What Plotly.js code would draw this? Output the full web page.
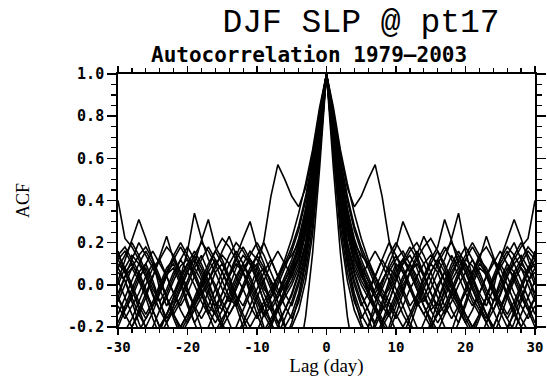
<!DOCTYPE html>
<html>
<head>
<meta charset="utf-8">
<script src="https://cdn.plot.ly/plotly-3.0.1.min.js"></script>
<style>html,body{margin:0;padding:0;background:#fff;}#chart{width:547px;height:377px;}</style>
</head>
<body>
<div id="chart"></div>
<script>
// Positive lags (days); the ACF is symmetric, negative lags mirror these values
const lags = [0,1,2,3,4,5,6,7,8,9,10,11,12,13,14,15,16,17,18,19,20,21,22,23,24,25,26,27,28,29,30];

const acf01 = [1.00,0.82,0.62,0.46,0.37,0.42,0.50,0.57,0.42,0.21,0.08,-0.02,-0.10,-0.05,0.04,0.10,0.06,-0.03,-0.12,-0.18,-0.10,0.00,0.08,0.05,-0.04,-0.13,-0.20,-0.14,-0.06,0.02,0.06];
const acf02 = [1.00,0.74,0.48,0.30,0.18,0.10,0.02,-0.06,-0.12,-0.08,0.02,0.10,0.14,0.08,-0.01,-0.08,-0.14,-0.10,-0.02,0.06,0.12,0.09,0.02,-0.06,-0.12,-0.05,0.04,0.12,0.18,0.22,0.40];
const acf03 = [1.00,0.70,0.40,0.18,0.05,-0.05,-0.12,-0.18,-0.10,0.00,0.08,0.12,0.06,-0.02,-0.10,-0.16,-0.22,-0.14,-0.04,0.04,0.10,0.04,-0.04,-0.10,-0.02,0.12,0.22,0.31,0.22,0.12,0.02];
const acf04 = [1.00,0.78,0.55,0.36,0.22,0.12,0.04,-0.04,-0.10,-0.15,-0.08,0.00,0.06,0.10,0.04,0.12,0.18,0.31,0.21,0.10,0.02,-0.06,-0.12,-0.18,-0.24,-0.16,-0.06,0.02,0.08,0.04,-0.04];
const acf05 = [1.00,0.66,0.34,0.12,-0.04,-0.14,-0.20,-0.12,0.00,0.10,0.18,0.30,0.22,0.14,0.05,-0.04,-0.12,-0.20,-0.26,-0.18,-0.08,0.02,0.10,0.06,-0.02,-0.10,-0.16,-0.22,-0.14,-0.06,0.02];
const acf06 = [1.00,0.72,0.44,0.24,0.10,0.02,-0.04,-0.10,-0.16,-0.22,-0.14,-0.04,0.06,0.14,0.23,0.16,0.08,0.02,-0.04,-0.10,-0.04,0.04,0.12,0.23,0.14,0.04,-0.06,-0.14,-0.20,-0.26,-0.30];
const acf07 = [1.00,0.80,0.58,0.40,0.26,0.16,0.08,0.00,-0.06,-0.02,0.06,0.12,0.08,0.00,-0.08,-0.02,0.06,0.12,0.22,0.34,0.16,0.04,-0.06,-0.14,-0.20,-0.12,-0.04,0.04,0.10,0.16,0.12];
const acf08 = [1.00,0.55,0.15,-0.15,-0.35,-0.30,-0.20,-0.08,0.02,0.08,0.04,-0.04,-0.12,-0.20,-0.26,-0.18,-0.08,0.02,0.10,0.16,0.10,0.02,-0.06,-0.14,-0.22,-0.30,-0.22,-0.12,-0.02,0.06,0.10];
const acf09 = [1.00,0.76,0.50,0.32,0.20,0.14,0.10,0.04,-0.02,-0.08,-0.14,-0.20,-0.14,-0.06,0.02,0.10,0.16,0.10,0.02,-0.06,-0.14,-0.20,-0.26,-0.18,-0.08,0.02,0.10,0.06,-0.02,-0.10,-0.18];
const acf10 = [1.00,0.68,0.38,0.16,0.02,-0.08,-0.16,-0.24,-0.18,-0.08,0.02,0.10,0.16,0.20,0.14,0.06,-0.02,-0.10,-0.16,-0.10,-0.02,0.06,0.14,0.18,0.12,0.04,-0.04,-0.12,-0.20,-0.14,-0.06];
const acf11 = [1.00,0.84,0.64,0.48,0.34,0.22,0.12,0.04,-0.04,-0.10,-0.16,-0.10,-0.02,0.04,0.10,0.14,0.10,0.02,-0.06,-0.12,-0.18,-0.24,-0.16,-0.06,0.04,0.12,0.18,0.14,0.08,0.00,-0.08];
const acf12 = [1.00,0.62,0.28,0.06,-0.08,-0.16,-0.10,-0.02,0.06,0.14,0.20,0.14,0.06,-0.02,-0.10,-0.18,-0.24,-0.30,-0.22,-0.12,-0.02,0.06,0.12,0.08,0.00,-0.08,-0.14,-0.08,0.00,0.08,0.14];
const acf13 = [1.00,0.78,0.52,0.30,0.14,0.04,-0.02,0.04,0.12,0.20,0.14,0.06,-0.02,-0.08,-0.14,-0.20,-0.14,-0.06,0.02,0.08,0.14,0.20,0.14,0.06,-0.02,-0.10,-0.16,-0.10,-0.02,0.06,0.12];
const acf14 = [1.00,0.72,0.42,0.20,0.06,-0.04,-0.12,-0.20,-0.28,-0.20,-0.10,-0.02,0.06,0.12,0.18,0.22,0.16,0.08,0.00,-0.08,-0.16,-0.22,-0.14,-0.06,0.02,0.10,0.16,0.10,0.02,-0.06,-0.14];
const acf15 = [1.00,0.80,0.56,0.36,0.20,0.08,-0.02,-0.10,-0.18,-0.24,-0.30,-0.24,-0.16,-0.08,0.00,0.06,0.12,0.18,0.12,0.04,-0.04,-0.10,-0.04,0.04,0.10,0.16,0.10,0.02,-0.06,-0.12,-0.20];
const acf16 = [1.00,0.64,0.32,0.10,-0.06,-0.18,-0.26,-0.18,-0.08,0.02,0.10,0.06,-0.02,-0.10,-0.06,0.02,0.10,0.16,0.20,0.14,0.06,-0.02,-0.10,-0.18,-0.12,-0.04,0.04,0.10,0.14,0.08,0.00];
const acf17 = [1.00,0.76,0.50,0.28,0.14,0.06,0.00,-0.06,-0.02,0.06,0.12,0.16,0.10,0.02,-0.06,-0.12,-0.08,0.00,0.08,0.14,0.08,0.00,-0.08,-0.14,-0.20,-0.12,-0.02,0.06,0.12,0.18,0.14];
const acf18 = [1.00,0.70,0.40,0.20,0.08,0.00,-0.06,-0.12,-0.20,-0.14,-0.06,0.02,0.10,0.04,-0.04,-0.12,-0.18,-0.12,-0.04,0.04,0.12,0.18,0.12,0.04,-0.04,-0.10,-0.04,0.04,0.10,0.06,0.16];
const acf19 = [1.00,0.82,0.60,0.42,0.28,0.18,0.10,0.02,-0.06,-0.14,-0.22,-0.28,-0.20,-0.10,-0.02,0.06,0.12,0.06,-0.02,-0.10,-0.18,-0.12,-0.04,0.04,0.12,0.08,0.00,-0.08,-0.16,-0.22,-0.28];
const acf20 = [1.00,0.60,0.24,0.02,-0.12,-0.20,-0.26,-0.20,-0.12,-0.04,0.04,0.12,0.18,0.12,0.04,-0.04,-0.10,-0.04,0.04,0.12,0.06,-0.02,-0.10,-0.16,-0.08,0.00,0.08,0.04,-0.04,-0.12,-0.06];
const acf21 = [1.00,0.74,0.46,0.26,0.12,0.04,0.10,0.16,0.10,0.02,-0.06,-0.14,-0.20,-0.26,-0.18,-0.10,-0.02,0.06,0.14,0.08,0.00,-0.08,-0.14,-0.06,0.02,0.10,0.04,-0.04,-0.10,-0.16,-0.10];
const acf22 = [1.00,0.78,0.54,0.34,0.18,0.06,-0.04,-0.12,-0.18,-0.12,-0.04,0.04,0.10,0.16,0.10,0.02,-0.06,-0.14,-0.08,0.00,0.06,0.12,0.06,-0.02,-0.08,-0.02,0.06,0.14,0.20,0.14,0.08];
const acf23 = [1.00,0.68,0.36,0.14,0.00,-0.10,-0.04,0.04,0.12,0.06,-0.02,-0.10,-0.18,-0.24,-0.30,-0.22,-0.12,-0.02,0.06,0.12,0.18,0.12,0.04,-0.04,-0.12,-0.20,-0.26,-0.18,-0.08,0.02,0.08];
const acf24 = [1.00,0.72,0.46,0.28,0.16,0.08,0.02,-0.04,0.02,0.08,0.14,0.08,0.00,-0.08,-0.14,-0.08,0.00,0.06,0.00,-0.08,-0.14,-0.20,-0.14,-0.06,0.02,0.08,0.14,0.20,0.12,0.04,-0.06];

const seriesList = [acf01,acf02,acf03,acf04,acf05,acf06,acf07,acf08,acf09,acf10,acf11,acf12,
                    acf13,acf14,acf15,acf16,acf17,acf18,acf19,acf20,acf21,acf22,acf23,acf24];

const xTickVals = [-30,-20,-10,0,10,20,30];
const yTickVals = [-0.2,0.0,0.2,0.4,0.6,0.8,1.0];

const titleText = 'DJF SLP @ pt17';
const subtitleText = 'Autocorrelation 1979\u20132003';

// mirror: lags -30..30
const fullLags = lags.slice(1).reverse().map(v => -v).concat(lags);
const traces = seriesList.map(s => ({
  type: 'scatter', mode: 'lines',
  x: fullLags,
  y: s.slice(1).reverse().concat(s),
  line: {color: '#000', width: 1.6},
  hoverinfo: 'skip', showlegend: false
}));

const layout = {
  width: 547, height: 377,
  margin: {l: 118, r: 12, t: 74, b: 50},
  paper_bgcolor: '#fff', plot_bgcolor: '#fff',
  showlegend: false,
  title: {
    text: titleText,
    font: {family: 'Courier New, Courier, FreeMono, Liberation Mono, monospace', size: 33, color: '#000'},
    x: 361/547, xanchor: 'center', xref: 'container',
    y: 0.947, yanchor: 'middle', yref: 'container'
  },
  annotations: [{
    text: subtitleText, showarrow: false,
    xref: 'paper', yref: 'paper', x: 0.458, y: 1.075,
    xanchor: 'center', yanchor: 'middle',
    font: {family: 'DejaVu Sans Mono', size: 21, color: '#000', weight: 'bold'}
  }],
  xaxis: {
    range: [-30, 30], tickvals: xTickVals, ticktext: xTickVals.map(String),
    ticks: 'outside', ticklen: 6, tickwidth: 1.5, tickcolor: '#000',
    minor: {dtick: 2, ticks: 'outside', ticklen: 4, tickwidth: 1.2, tickcolor: '#000', showgrid: false},
    showline: true, linecolor: '#000', linewidth: 1.8, mirror: 'allticks',
    showgrid: false, zeroline: false,
    tickfont: {family: 'DejaVu Sans Mono', size: 14, color: '#000', weight: 'bold'},
    title: {text: 'Lag (day)', font: {family: 'Liberation Serif', size: 19, color: 'black'}, standoff: 4}
  },
  yaxis: {
    range: [-0.2, 1.0], tickvals: yTickVals, ticktext: yTickVals.map(v => v.toFixed(1)),
    ticks: 'outside', ticklen: 9, tickwidth: 1.5, tickcolor: '#000',
    minor: {dtick: 0.05, ticks: 'outside', ticklen: 5, tickwidth: 1.2, tickcolor: '#000', showgrid: false},
    showline: true, linecolor: '#000', linewidth: 1.8, mirror: 'allticks',
    showgrid: false, zeroline: false,
    tickfont: {family: 'DejaVu Sans Mono', size: 15, color: '#000', weight: 'bold'},
    title: {text: 'ACF', font: {family: 'Liberation Serif', size: 18, color: 'black'}, standoff: 34}
  }
};

Plotly.newPlot('chart', traces, layout, {displayModeBar: false, staticPlot: true});
</script>
</body>
</html>
